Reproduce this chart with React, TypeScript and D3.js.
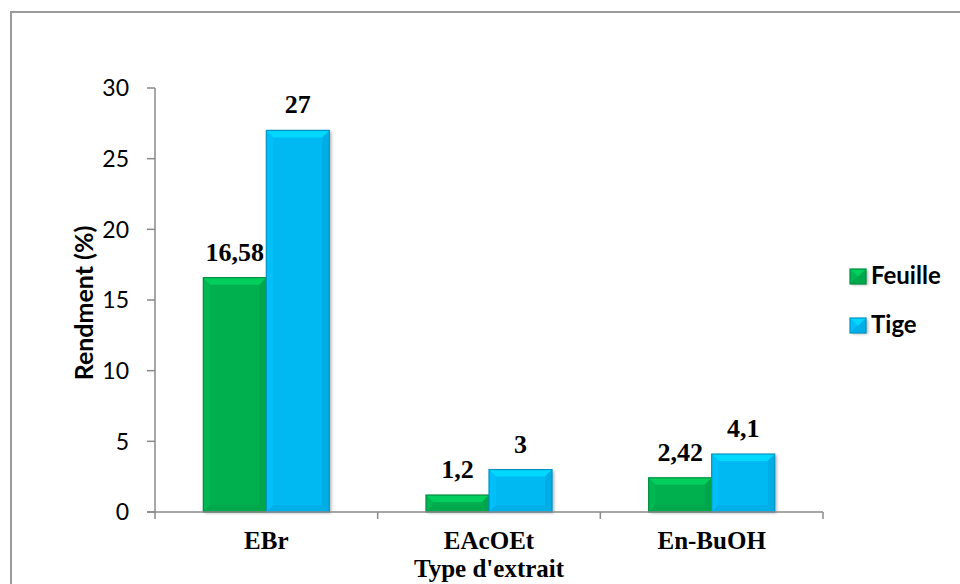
import React from "react";
import * as d3 from "d3";

// Extraction yields (%) per extract type and plant part
const categories = ["EBr", "EAcOEt", "En-BuOH"];
const seriesNames = ["Feuille", "Tige"];
const feuilleValues = [16.58, 1.2, 2.42];
const tigeValues = [27, 3, 4.1];
const feuilleLabels = ["16,58", "1,2", "2,42"];
const tigeLabels = ["27", "3", "4,1"];
const yTicks = [0, 5, 10, 15, 20, 25, 30];

const W = 960;
const H = 584;
const plot = { left: 155, right: 823, top: 88, bottom: 512 };
const colors: Record<string, string> = { Feuille: "#00B050", Tige: "#00B8F2" };
const axisColor = "#8a8a8a";
const serif = "'Liberation Serif', 'Times New Roman', serif";
const sans = "Lato, 'Liberation Sans', sans-serif";

type Bar = { cat: string; series: string; value: number; label: string };

const bars: Bar[] = categories.flatMap((c, i) => [
  { cat: c, series: "Feuille", value: feuilleValues[i], label: feuilleLabels[i] },
  { cat: c, series: "Tige", value: tigeValues[i], label: tigeLabels[i] },
]);

function BevelBar({ x, y, w, h, color }: { x: number; y: number; w: number; h: number; color: string }) {
  const b = Math.min(7, h / 2, w / 2);
  const light = d3.color(color)!.brighter(0.45).formatHex();
  const lighter = d3.color(color)!.brighter(0.2).formatHex();
  const dark = d3.color(color)!.darker(0.35).formatHex();
  const darker = d3.color(color)!.darker(0.6).formatHex();
  const x2 = x + w;
  const y2 = y + h;
  return (
    <g>
      <rect x={x} y={y} width={w} height={h} fill={color} filter="url(#shadow)" />
      {/* top bevel */}
      <polygon points={`${x},${y} ${x2},${y} ${x2 - b},${y + b} ${x + b},${y + b}`} fill={light} />
      {/* left bevel */}
      <polygon points={`${x},${y} ${x + b},${y + b} ${x + b},${y2 - b} ${x},${y2}`} fill={lighter} opacity={0.5} />
      {/* right bevel */}
      <polygon points={`${x2},${y} ${x2},${y2} ${x2 - b},${y2 - b} ${x2 - b},${y + b}`} fill={dark} opacity={0.5} />
      {/* bottom bevel */}
      <polygon points={`${x},${y2} ${x + b},${y2 - b} ${x2 - b},${y2 - b} ${x2},${y2}`} fill={dark} opacity={0.4} />
      <rect x={x} y={y} width={w} height={h} fill="none" stroke={darker} strokeWidth={1.2} />
    </g>
  );
}

export default function App() {
  const y = d3.scaleLinear().domain([0, 30]).range([plot.bottom, plot.top]);
  const x0 = d3
    .scaleBand<string>()
    .domain(categories)
    .range([plot.left, plot.right])
    .paddingInner(0.434)
    .paddingOuter(0.217);
  const x1 = d3.scaleBand<string>().domain(seriesNames).range([0, x0.bandwidth()]);
  const step = x0.step();
  const boundaries = d3.range(categories.length + 1).map((i) => plot.left + i * step);

  return (
    <svg
      width={W}
      height={H}
      style={{ position: "absolute", left: 0, top: 0, display: "block", background: "#fff" }}
    >
      <defs>
        <filter id="shadow" x="-20%" y="-20%" width="150%" height="150%">
          <feDropShadow dx="2" dy="1" stdDeviation="1.5" floodColor="#000" floodOpacity="0.3" />
        </filter>
      </defs>
      <rect x={0} y={0} width={W} height={H} fill="#fff" />
      {/* chart frame */}
      <rect x={11} y={12} width={W + 20} height={H + 20} fill="none" stroke="#9a9a9a" strokeWidth={2} />

      {/* y axis */}
      <line x1={plot.left} x2={plot.left} y1={plot.top} y2={plot.bottom} stroke={axisColor} strokeWidth={1.5} />
      {yTicks.map((t) => (
        <g key={t}>
          <line x1={plot.left - 8} x2={plot.left} y1={y(t)} y2={y(t)} stroke={axisColor} strokeWidth={1.5} />
          <text
            x={129}
            y={y(t)}
            dy="0.36em"
            textAnchor="end"
            fontFamily={sans}
            fontSize={23}
            fill="#000"
          >
            {t}
          </text>
        </g>
      ))}
      <text
        transform={`translate(93, ${(plot.top + plot.bottom) / 2 + 3}) rotate(-90)`}
        textAnchor="middle"
        fontFamily={sans}
        fontWeight="bold"
        fontSize={25}
        fill="#000"
      >
        Rendment (%)
      </text>

      {/* bars */}
      {bars.map((d) => {
        const bx = (x0(d.cat) ?? 0) + (x1(d.series) ?? 0);
        const bw = x1.bandwidth();
        const by = y(d.value);
        return (
          <g key={d.cat + d.series}>
            <BevelBar x={bx} y={by} w={bw} h={plot.bottom - by} color={colors[d.series]} />
            <text
              x={bx + bw / 2}
              y={by - 17}
              textAnchor="middle"
              fontFamily={serif}
              fontWeight="bold"
              fontSize={26}
              fill="#000"
            >
              {d.label}
            </text>
          </g>
        );
      })}

      {/* x axis */}
      <line x1={plot.left - 8} x2={plot.right} y1={plot.bottom} y2={plot.bottom} stroke={axisColor} strokeWidth={1.5} />
      {boundaries.map((bx, i) => (
        <line key={i} x1={bx} x2={bx} y1={plot.bottom} y2={plot.bottom + 7} stroke={axisColor} strokeWidth={1.5} />
      ))}
      {categories.map((c) => (
        <text
          key={c}
          x={(x0(c) ?? 0) + x0.bandwidth() / 2}
          y={549}
          textAnchor="middle"
          fontFamily={serif}
          fontWeight="bold"
          fontSize={25}
          fill="#000"
        >
          {c}
        </text>
      ))}
      <text
        x={(plot.left + plot.right) / 2}
        y={577}
        textAnchor="middle"
        fontFamily={serif}
        fontWeight="bold"
        fontSize={25}
        fill="#000"
      >
        Type d'extrait
      </text>

      {/* legend */}
      {seriesNames.map((s, i) => {
        const ly = 269 + i * 49;
        return (
          <g key={s}>
            <BevelBar x={850} y={ly} w={16} h={15} color={colors[s]} />
            <text
              x={871}
              y={ly + 15}
              fontFamily={sans}
              fontWeight="bold"
              fontSize={24}
              fill="#000"
            >
              {s}
            </text>
          </g>
        );
      })}
    </svg>
  );
}
